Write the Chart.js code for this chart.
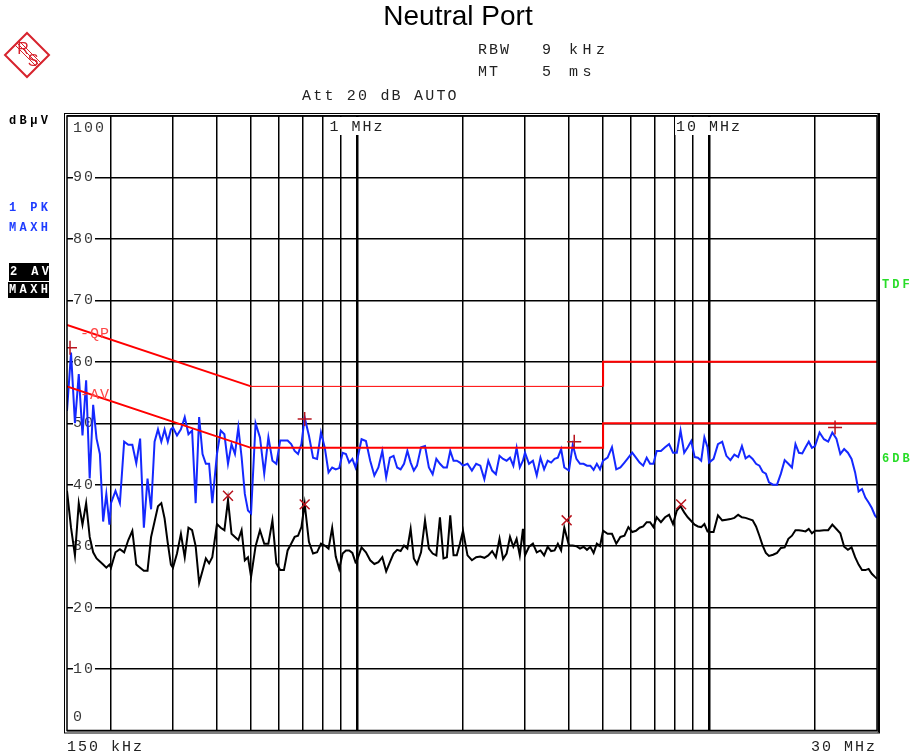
<!DOCTYPE html>
<html>
<head>
<meta charset="utf-8">
<title>Neutral Port</title>
<script src="https://cdn.jsdelivr.net/npm/chart.js@4.4.1/dist/chart.umd.min.js"></script>
<style>
  html, body { margin: 0; padding: 0; background: #fff; }
  #contenedor { width: 911px; height: 754px; }
</style>
</head>
<body>
<div id="contenedor"><canvas id="graficoPuerto" width="911" height="754"></canvas></div>
<script>
// Puntos del barrido (MHz), compartidos por las dos trazas
const freqMHz = [
  0.150,0.154,0.158,0.162,0.166,0.170,0.174,0.178,0.182,0.186,0.190,0.194,0.198,
  0.200,0.206,0.212,0.218,0.224,0.230,0.236,0.242,0.248,0.254,0.260,0.266,0.272,0.278,0.284,0.290,0.296,
  0.300,0.308,0.316,0.324,0.332,0.340,0.348,0.356,0.364,0.372,0.380,0.388,
  0.40,0.41,0.42,0.43,0.44,0.45,0.46,0.47,0.48,0.49,
  0.500,0.515,0.530,0.545,0.560,0.575,0.590,0.605,0.620,0.635,0.650,0.665,0.680,0.695,
  0.71,0.73,0.75,0.77,0.79,0.81,0.83,0.85,0.87,0.89,0.91,0.93,0.95,0.97,0.99,
  1.00,1.03,1.06,1.09,1.12,1.15,1.18,1.21,1.24,1.27,1.30,1.33,1.36,1.39,1.42,1.45,1.48,
  1.52,1.56,1.60,1.64,1.68,1.72,1.76,1.80,1.84,1.88,1.92,1.96,
  2.00,2.06,2.12,2.18,2.24,2.30,2.36,2.42,2.48,2.54,2.60,2.66,2.72,2.78,2.84,2.90,2.96,
  3.00,3.08,3.16,3.24,3.32,3.40,3.48,3.56,3.64,3.72,3.80,3.88,
  4.0,4.1,4.2,4.3,4.4,4.5,4.6,4.7,4.8,4.9,
  5.00,5.15,5.30,5.45,5.60,5.75,5.90,6.05,6.20,6.35,6.50,6.65,6.80,6.95,
  7.1,7.3,7.5,7.7,7.9,8.1,8.3,8.5,8.7,8.9,9.1,9.3,9.5,9.7,9.9,
  10.0,10.3,10.6,10.9,11.2,11.5,11.8,12.1,12.4,12.7,13.0,13.3,13.6,13.9,14.2,14.5,14.8,
  15.2,15.6,16.0,16.4,16.8,17.2,17.6,18.0,18.4,18.8,19.2,19.6,
  20.0,20.6,21.2,21.8,22.4,23.0,23.6,24.2,24.8,25.4,26.0,26.6,27.2,27.8,28.4,29.0,29.6,30.0
];

// Traza 1: PK MAXH (dBuV)
const peakDb = [
  52,61.5,50,58,48,57,41,53,47.5,45,34,38.5,33.5,
  37,39,37,47,46.5,46.5,43.5,47.5,33,41,36,47,49,47,49,47,49,
  49.3,48,49,51,48.2,48.8,37,51,45,43.4,43.4,37,
  45,48.8,48.2,43.4,46.6,45,49.3,44.5,38.5,35.8,
  35.3,50,47.7,41.8,47.7,43.9,43.4,47.2,47.2,47.2,46.6,45.5,45,46.6,
  50.9,48,44.4,44.2,48.5,46,42,42.8,42.5,42.7,45.2,45,43.6,44.2,42.8,
  43.9,47.4,47.1,43.9,41.5,42.8,45.5,41.2,44.4,44.7,42.8,42.5,43.4,45.5,43.6,42.3,43.1,
  46.1,46.3,42.8,41.7,44.2,43.4,42.8,42.8,45.5,43.9,43.9,43.6,
  43.1,43.4,42.3,43.4,43.1,40.9,43.9,42.3,41.7,44.7,44.2,43.9,44.4,43.1,46,42.8,43.9,
  45.2,43.4,43.9,41.5,44.4,42.5,43.9,43.6,44.2,44.4,45.8,42.8,
  42.3,46.5,44.2,43.4,43.4,43.1,43.1,42.4,43.4,42.5,
  43.9,44.4,46.1,42.5,42.8,43.6,44.4,45.2,44.4,43.6,43.1,44.4,43.4,43.4,
  45.5,45.5,46.1,46.6,45.2,45.2,48.8,45.2,46.1,47.1,44.5,44.4,43.9,47.7,46.1,
  43.6,44.2,46.6,47,44.7,44,44.9,44.5,46.3,44.3,44.7,44.2,43.4,43.1,42.1,41.8,40.4,
  40,40,41.8,44,43.4,42.8,46.6,45.2,45.1,46.1,47,46,
  46.3,48.5,47.4,47,48.5,47.5,45,45.8,45.2,44.2,42,38.9,39.3,37.9,37.1,36.2,35,34.6
];

// Traza 2: AV MAXH (dBuV)
const avgDb = [
  39,33,28.5,37,33.5,37,31.5,29,28,27.5,27,26.5,27,
  26.5,29,29.5,29,31,32.5,27,26.5,26,26,31.5,34,36.5,37,34.5,30.5,27,
  26.5,28.8,32,28.2,33,32.6,30,24,26,28,27.2,28.2,
  33.6,33,32.6,37.5,32,31.5,31,32.6,27.7,28.2,
  25,30,32.6,30.4,30.4,34.2,27.2,26.1,26.1,29.3,30.4,31.5,31.7,33.1,
  36.9,30.7,28.8,29,30.4,30.1,29.6,33,28.3,26.3,28.8,29.3,29.3,28.9,27.4,
  27.7,29.8,29,27.7,27.1,27.4,28.2,25.9,27.4,28.8,29.4,29.2,30.1,29.6,32.8,28,27.1,
  29,34.2,29.6,28.8,28.5,34.7,28,28.2,35,28.5,28.5,30.4,
  32.5,28.5,27.7,28.2,28.3,28.1,28.5,29.2,28.2,31.2,27.9,28.8,31.5,29.9,31.2,28.5,32.8,
  28.5,29.9,30.4,29,29.3,28.5,29.9,29.2,29.3,30.4,29.3,33,
  30.1,30.1,30,29.6,29.9,29.4,29.9,28.9,30.4,30,
  32.5,32,32,30.4,31.5,31.7,33.1,32.3,32.5,33,33.2,33.9,33.9,33.1,
  34.7,33.9,34.7,35.1,33.6,35.8,36.5,35.5,34.7,34.1,33.5,33.2,33.1,33.6,32.4,
  32.3,32.3,35,34.2,34.3,34.4,34.6,35.1,34.7,34.6,34.4,34.2,33.2,31.7,30.1,28.9,28.4,
  28.6,28.9,29.7,29.8,31.2,31.7,32.6,32.6,32.5,32.4,32.8,32.1,
  32.5,32.5,32.6,32.6,33.5,32.8,32.1,29.9,29.4,29.8,28.2,27,26.1,26.1,26.3,25.5,25,24.7
];

// Lineas limite
const qpLimFreq = [0.15, 0.5, 5, 5, 30];
const qpLimDb   = [66, 56, 56, 60, 60];
const avLimFreq = [0.15, 0.5, 5, 5, 30];
const avLimDb   = [56, 46, 46, 50, 50];

// Marcadores
const mkPkFreq = [0.153, 0.71, 4.14, 22.8];
const mkPkDb   = [62.3, 50.7, 47.0, 49.3];
const mkAvFreq = [0.43, 0.71, 3.94, 8.33];
const mkAvDb   = [38.2, 36.8, 34.2, 36.8];

// Rejilla y etiquetas de ejes
const gridFreqs = [0.2,0.3,0.4,0.5,0.6,0.7,0.8,0.9,1,2,3,4,5,6,7,8,9,10,20];
const yTicks = [0,10,20,30,40,50,60,70,80,90,100];
const xTopLabels = [{ value: 1, text: "1 MHz" }, { value: 10, text: "10 MHz" }];
const xStartLabel = "150 kHz";
const xEndLabel = "30 MHz";

function puntos(xs, ys) {
  return xs.map((x, i) => ({ x: x, y: ys[i] }));
}

const MONO = "'Liberation Mono', 'DejaVu Sans Mono', monospace";

function escribir(ctx, txt, x, y, font, color, align, spacing) {
  ctx.save();
  ctx.font = font;
  ctx.fillStyle = color;
  ctx.textAlign = align || "left";
  ctx.textBaseline = "middle";
  ctx.letterSpacing = (spacing || 0) + "px";
  ctx.fillText(txt, x, y);
  ctx.restore();
}

function ancho(ctx, txt, font, spacing) {
  ctx.save();
  ctx.font = font;
  ctx.letterSpacing = (spacing || 0) + "px";
  const w = ctx.measureText(txt).width;
  ctx.restore();
  return w;
}

function logoRS(ctx) {
  const cx = 27, cy = 55, r = 22;
  const rojo = "rgb(215,35,45)";
  ctx.save();
  ctx.strokeStyle = rojo;
  ctx.lineWidth = 2;
  ctx.beginPath();
  ctx.moveTo(cx, cy - r); ctx.lineTo(cx + r, cy); ctx.lineTo(cx, cy + r); ctx.lineTo(cx - r, cy);
  ctx.closePath();
  ctx.stroke();
  ctx.lineWidth = 1;
  [-2, 0, 2].forEach(d => {
    ctx.beginPath();
    ctx.moveTo(17 + d, 43 - d);
    ctx.lineTo(39 + d, 65 - d);
    ctx.stroke();
  });
  ctx.restore();
  escribir(ctx, "R", 23, 50, "16px 'Liberation Sans'", rojo, "center");
  escribir(ctx, "S", 33, 62, "16px 'Liberation Sans'", rojo, "center");
}

const decoracion = {
  id: "decoracion",
  beforeDraw(chart) {
    const ctx = chart.ctx;
    ctx.save();
    ctx.fillStyle = "#fff";
    ctx.fillRect(0, 0, chart.width, chart.height);
    ctx.restore();

    escribir(ctx, "Neutral Port", 458, 17, "28px 'Liberation Sans'", "#000", "center");
    logoRS(ctx);

    const f15 = "15px " + MONO;
    escribir(ctx, "RBW", 478, 50, f15, "#222", "left", 2);
    escribir(ctx, "9 kHz", 542, 50, f15, "#222", "left", 4.5);
    escribir(ctx, "MT", 478, 72, f15, "#222", "left", 2);
    escribir(ctx, "5 ms", 542, 72, f15, "#222", "left", 4.5);
    escribir(ctx, "Att 20 dB AUTO", 302, 96, f15, "#222", "left", 2.2);

    const fb = "bold 12px " + MONO;
    escribir(ctx, "dB\u00b5V", 9, 121, fb, "#000", "left", 3.4);
    escribir(ctx, "1 PK", 9, 208, fb, "rgb(30,60,255)", "left", 3.4);
    escribir(ctx, "MAXH", 9, 228, fb, "rgb(30,60,255)", "left", 3.4);
    ctx.save();
    ctx.fillStyle = "#000";
    ctx.fillRect(9, 263, 40, 18);
    ctx.fillRect(8, 282, 41, 16);
    ctx.restore();
    escribir(ctx, "2 AV", 10, 272, fb, "#fff", "left", 3.4);
    escribir(ctx, "MAXH", 9, 290, fb, "#fff", "left", 3.4);

    escribir(ctx, "TDF", 882, 285, fb, "rgb(40,220,40)", "left", 3);
    escribir(ctx, "6DB", 882, 459, fb, "rgb(40,220,40)", "left", 3);

    const area = chart.chartArea;
    escribir(ctx, xStartLabel, area.left, 747, f15, "#222", "left", 2);
    const wEnd = ancho(ctx, xEndLabel, f15, 2);
    escribir(ctx, xEndLabel, area.right - wEnd, 747, f15, "#222", "left", 2);
  },
  beforeDatasetsDraw(chart) {
    const ctx = chart.ctx;
    const area = chart.chartArea;
    const ys = chart.scales.y;
    const xs = chart.scales.x;
    const f15 = "15px " + MONO;

    yTicks.forEach(v => {
      let y = ys.getPixelForValue(v);
      if (v === 100) y += 12;
      if (v === 0) y -= 13;
      const txt = String(v);
      const w = ancho(ctx, txt, f15, 2);
      ctx.save();
      ctx.fillStyle = "#fff";
      ctx.fillRect(area.left + 6, y - 6, w, 12);
      ctx.restore();
      escribir(ctx, txt, area.left + 6, y, f15, "#3a3a3a", "left", 2);
    });

    xTopLabels.forEach(l => {
      const xc = xs.getPixelForValue(l.value);
      const w = ancho(ctx, l.text, f15, 2);
      ctx.save();
      ctx.fillStyle = "#fff";
      ctx.fillRect(xc - w / 2 - 1, area.top + 1, w + 2, 18);
      ctx.restore();
      escribir(ctx, l.text, xc - w / 2, area.top + 11, f15, "#222", "left", 2);
    });
  },
  afterDatasetsDraw(chart) {
    const ctx = chart.ctx;
    const area = chart.chartArea;
    const xs = chart.scales.x;
    const ys = chart.scales.y;
    const f15 = "15px " + MONO;
    const x0 = xs.getPixelForValue(qpLimFreq[0]) + 13;
    escribir(ctx, "-QP", x0, ys.getPixelForValue(qpLimDb[0]) + 9, f15, "rgb(255,70,70)", "left", 1);
    escribir(ctx, "-AV", x0, ys.getPixelForValue(avLimDb[0]) + 9, f15, "rgb(255,70,70)", "left", 1);

    ctx.save();
    ctx.strokeStyle = "#000";
    ctx.lineWidth = 1.5;
    ctx.strokeRect(area.left, area.top, area.right - area.left, area.bottom - area.top);
    ctx.lineWidth = 1;
    ctx.strokeRect(area.left - 2.5, area.top - 2.5, area.right - area.left + 5, area.bottom - area.top + 5);
    ctx.lineWidth = 2;
    ctx.beginPath();
    ctx.moveTo(area.right + 1.5, area.top - 2);
    ctx.lineTo(area.right + 1.5, area.bottom + 2);
    ctx.stroke();
    ctx.restore();
  }
};

const rojoMarca = "rgb(185,20,30)";

new Chart("graficoPuerto", {
  type: "line",
  data: {
    datasets: [
      {
        label: "PK marker",
        data: puntos(mkPkFreq, mkPkDb),
        showLine: false,
        pointStyle: "cross",
        pointRadius: 7,
        pointBorderColor: rojoMarca,
        pointBorderWidth: 1.5,
        order: 0
      },
      {
        label: "AV marker",
        data: puntos(mkAvFreq, mkAvDb),
        showLine: false,
        pointStyle: "crossRot",
        pointRadius: 7,
        pointBorderColor: rojoMarca,
        pointBorderWidth: 1.5,
        order: 0
      },
      {
        label: "QP limit",
        data: puntos(qpLimFreq, qpLimDb),
        borderColor: "rgb(255,0,0)",
        borderWidth: 2,
        segment: { borderWidth: c => (c.p0DataIndex === 1 ? 1 : 2) },
        pointRadius: 0,
        order: 1
      },
      {
        label: "AV limit",
        data: puntos(avLimFreq, avLimDb),
        borderColor: "rgb(255,0,0)",
        borderWidth: 2,
        pointRadius: 0,
        order: 1
      },
      {
        label: "2 AV MAXH",
        data: puntos(freqMHz, avgDb),
        borderColor: "#000",
        borderWidth: 2,
        pointRadius: 0,
        order: 2
      },
      {
        label: "1 PK MAXH",
        data: puntos(freqMHz, peakDb),
        borderColor: "rgb(20,40,255)",
        borderWidth: 2,
        pointRadius: 0,
        order: 3
      }
    ]
  },
  options: {
    responsive: false,
    animation: false,
    layout: { padding: { left: 67, top: 116, right: 34, bottom: 23.5 } },
    plugins: {
      legend: { display: false },
      tooltip: { enabled: false }
    },
    scales: {
      x: {
        type: "logarithmic",
        min: 0.15,
        max: 30,
        afterBuildTicks: scale => {
          scale.ticks = gridFreqs.map(v => ({ value: v }));
        },
        ticks: { display: false },
        border: { display: false },
        grid: {
          drawTicks: false,
          color: "#000",
          lineWidth: c => (c.tick && (c.tick.value === 1 || c.tick.value === 10) ? 2.5 : 1.5)
        }
      },
      y: {
        min: 0,
        max: 100,
        ticks: { display: false, stepSize: 10 },
        border: { display: false },
        grid: { drawTicks: false, color: "#000", lineWidth: 1.5 }
      }
    }
  },
  plugins: [decoracion]
});
</script>
</body>
</html>
